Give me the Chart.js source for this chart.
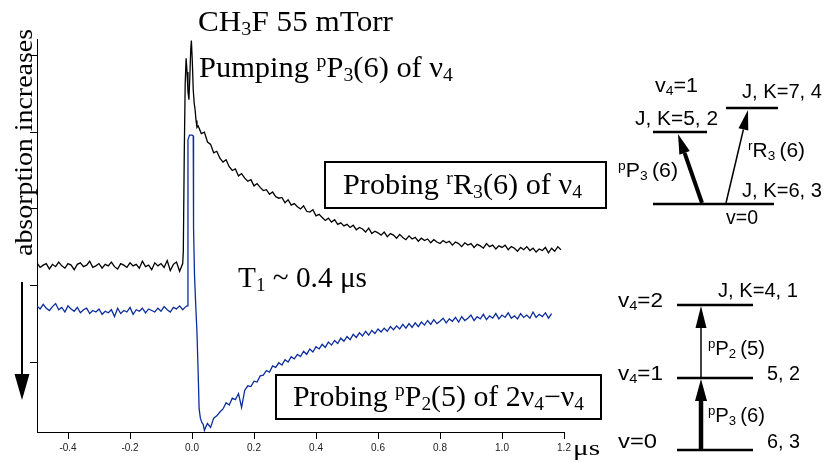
<!DOCTYPE html>
<html>
<head>
<meta charset="utf-8">
<style>
  html, body { margin: 0; padding: 0; background: #fff; }
  #wrap { width: 831px; height: 463px; }
</style>
</head>
<body>
<div id="wrap"><canvas id="decayChart" width="831" height="463"></canvas></div>
<script src="https://cdn.jsdelivr.net/npm/chart.js@4/dist/chart.umd.min.js"></script>
<script>
// axis ticks (µs) and the unlabeled left ticks
const xTickValues = [-0.4, -0.2, 0.0, 0.2, 0.4, 0.6, 0.8, 1.0, 1.2];
const yTickValues = [0, 1, 2, 3, 4];

// probe rR3(6) of v4 (black trace)
const blackTimes = [
  -0.50, -0.49, -0.48, -0.47, -0.46, -0.45, -0.44, -0.43, -0.42, -0.41,
  -0.40, -0.39, -0.38, -0.37, -0.36, -0.35, -0.34, -0.33, -0.32, -0.31,
  -0.30, -0.29, -0.28, -0.27, -0.26, -0.25, -0.24, -0.23, -0.22, -0.21,
  -0.20, -0.19, -0.18, -0.17, -0.16, -0.15, -0.14, -0.13, -0.12, -0.11,
  -0.10, -0.09, -0.08, -0.07, -0.06, -0.05, -0.04, -0.03,
  -0.028, -0.025, -0.022, -0.019, -0.016, -0.013, -0.010, -0.007,
  -0.004, -0.002, 0.001, 0.004, 0.007, 0.010, 0.013, 0.016,
  0.02, 0.03, 0.04, 0.05, 0.06, 0.07, 0.08, 0.09,
  0.10, 0.11, 0.12, 0.13, 0.14, 0.15, 0.16, 0.17, 0.18, 0.19,
  0.20, 0.21, 0.22, 0.23, 0.24, 0.25, 0.26, 0.27, 0.28, 0.29,
  0.30, 0.31, 0.32, 0.33, 0.34, 0.35, 0.36, 0.37, 0.38, 0.39,
  0.40, 0.41, 0.42, 0.43, 0.44, 0.45, 0.46, 0.47, 0.48, 0.49,
  0.50, 0.51, 0.52, 0.53, 0.54, 0.55, 0.56, 0.57, 0.58, 0.59,
  0.60, 0.61, 0.62, 0.63, 0.64, 0.65, 0.66, 0.67, 0.68, 0.69,
  0.70, 0.71, 0.72, 0.73, 0.74, 0.75, 0.76, 0.77, 0.78, 0.79,
  0.80, 0.81, 0.82, 0.83, 0.84, 0.85, 0.86, 0.87, 0.88, 0.89,
  0.90, 0.91, 0.92, 0.93, 0.94, 0.95, 0.96, 0.97, 0.98, 0.99,
  1.00, 1.01, 1.02, 1.03, 1.04, 1.05, 1.06, 1.07, 1.08, 1.09,
  1.10, 1.11, 1.12, 1.13, 1.14, 1.15, 1.16, 1.17, 1.18, 1.19
];
const blackValues = [
  1.30, 1.24, 1.27, 1.29, 1.22, 1.28, 1.25, 1.31, 1.26, 1.23,
  1.29, 1.27, 1.21, 1.28, 1.30, 1.25, 1.27, 1.32, 1.24, 1.26,
  1.29, 1.23, 1.28, 1.26, 1.31, 1.25, 1.22, 1.29, 1.27, 1.24,
  1.30, 1.26, 1.28, 1.23, 1.32, 1.25, 1.27, 1.21, 1.30, 1.26,
  1.29, 1.24, 1.33, 1.20, 1.28, 1.31, 1.19, 1.29,
  1.45, 2.70, 3.62, 3.96, 3.78, 3.52, 3.42, 3.72,
  4.08, 4.19, 3.92, 3.55, 3.38, 3.29, 3.15, 3.06,
  3.08, 2.98, 3.00, 2.87, 2.84, 2.73, 2.75, 2.66,
  2.61, 2.64, 2.55, 2.50, 2.52, 2.43, 2.46, 2.40, 2.36, 2.38,
  2.30, 2.33, 2.28, 2.24, 2.25, 2.19, 2.22, 2.16, 2.14, 2.15,
  2.08, 2.12, 2.05, 2.07, 2.03, 2.00, 2.04, 1.97, 1.96, 1.99,
  1.91, 1.93, 1.89, 1.85, 1.88, 1.83, 1.86, 1.80, 1.82, 1.78,
  1.80, 1.76, 1.79, 1.73, 1.76, 1.74, 1.70, 1.75, 1.68, 1.71,
  1.69, 1.66, 1.70, 1.64, 1.68, 1.66, 1.62, 1.67, 1.63, 1.60,
  1.65, 1.61, 1.63, 1.58, 1.62, 1.59, 1.61, 1.56, 1.60, 1.57,
  1.55, 1.59, 1.56, 1.58, 1.53, 1.57, 1.55, 1.51, 1.56, 1.53,
  1.55, 1.50, 1.54, 1.52, 1.49, 1.55, 1.51, 1.53, 1.48, 1.52,
  1.50, 1.53, 1.47, 1.51, 1.49, 1.45, 1.50, 1.47, 1.51, 1.46,
  1.49, 1.44, 1.48, 1.46, 1.50, 1.43, 1.49, 1.45, 1.51, 1.47
];

// probe pP2(5) of 2v4-v4 (blue trace)
const blueTimes = [
  -0.50, -0.49, -0.48, -0.47, -0.46, -0.45, -0.44, -0.43, -0.42, -0.41,
  -0.40, -0.39, -0.38, -0.37, -0.36, -0.35, -0.34, -0.33, -0.32, -0.31,
  -0.30, -0.29, -0.28, -0.27, -0.26, -0.25, -0.24, -0.23, -0.22, -0.21,
  -0.20, -0.19, -0.18, -0.17, -0.16, -0.15, -0.14, -0.13, -0.12, -0.11,
  -0.10, -0.09, -0.08, -0.07, -0.06, -0.05, -0.04, -0.03, -0.02,
  -0.016, -0.013, -0.008, -0.004, 0.000, 0.004, 0.005, 0.008, 0.012,
  0.016, 0.020, 0.023, 0.027, 0.032, 0.036, 0.040, 0.045,
  0.05, 0.06, 0.07, 0.08, 0.09,
  0.10, 0.11, 0.12, 0.13, 0.14, 0.15, 0.16, 0.17, 0.18, 0.19,
  0.20, 0.21, 0.22, 0.23, 0.24, 0.25, 0.26, 0.27, 0.28, 0.29,
  0.30, 0.31, 0.32, 0.33, 0.34, 0.35, 0.36, 0.37, 0.38, 0.39,
  0.40, 0.41, 0.42, 0.43, 0.44, 0.45, 0.46, 0.47, 0.48, 0.49,
  0.50, 0.51, 0.52, 0.53, 0.54, 0.55, 0.56, 0.57, 0.58, 0.59,
  0.60, 0.61, 0.62, 0.63, 0.64, 0.65, 0.66, 0.67, 0.68, 0.69,
  0.70, 0.71, 0.72, 0.73, 0.74, 0.75, 0.76, 0.77, 0.78, 0.79,
  0.80, 0.81, 0.82, 0.83, 0.84, 0.85, 0.86, 0.87, 0.88, 0.89,
  0.90, 0.91, 0.92, 0.93, 0.94, 0.95, 0.96, 0.97, 0.98, 0.99,
  1.00, 1.01, 1.02, 1.03, 1.04, 1.05, 1.06, 1.07, 1.08, 1.09,
  1.10, 1.11, 1.12, 1.13, 1.14, 1.15, 1.16
];
const blueValues = [
  0.74, 0.70, 0.76, 0.71, 0.68, 0.73, 0.77, 0.69, 0.72, 0.66,
  0.74, 0.70, 0.67, 0.72, 0.65, 0.69, 0.71, 0.64, 0.68, 0.66,
  0.70, 0.63, 0.67, 0.65, 0.69, 0.60, 0.71, 0.64, 0.68, 0.66,
  0.72, 0.63, 0.69, 0.67, 0.71, 0.65, 0.70, 0.68, 0.66, 0.71,
  0.67, 0.73, 0.69, 0.66, 0.72, 0.70, 0.74, 0.69, 0.73,
  0.74, 2.90, 2.96, 2.96, 2.96, 2.95, 1.75, 1.15, 0.75,
  0.40, -0.15, -0.60, -0.72, -0.78, -0.80, -0.88, -0.83,
  -0.79, -0.84, -0.72, -0.69, -0.64,
  -0.60, -0.52, -0.55, -0.46, -0.48, -0.40, -0.58, -0.36, -0.30, -0.31,
  -0.24, -0.25, -0.17, -0.16, -0.10, -0.12, -0.04, -0.06, 0.00, -0.03,
  0.04, 0.01, 0.08, 0.05, 0.11, 0.08, 0.15, 0.11, 0.18, 0.14,
  0.21, 0.18, 0.24, 0.20, 0.27, 0.23, 0.29, 0.25, 0.32, 0.28,
  0.34, 0.30, 0.37, 0.33, 0.39, 0.35, 0.41, 0.36, 0.42, 0.38,
  0.44, 0.40, 0.45, 0.41, 0.47, 0.43, 0.48, 0.44, 0.50, 0.45,
  0.51, 0.46, 0.52, 0.47, 0.53, 0.49, 0.55, 0.50, 0.56, 0.51,
  0.54, 0.58, 0.52, 0.57, 0.54, 0.59, 0.53, 0.60, 0.55, 0.58,
  0.62, 0.55, 0.60, 0.57, 0.63, 0.56, 0.61, 0.58, 0.64, 0.57,
  0.62, 0.59, 0.65, 0.58, 0.61, 0.57, 0.64, 0.59, 0.62, 0.58,
  0.66, 0.59, 0.63, 0.60, 0.65, 0.58, 0.64
];

const SERIF = '"Liberation Serif", "Times New Roman", serif';
const SANS = '"Liberation Sans", Arial, sans-serif';

// text pieces: [text, 'sub' | 'sup' | undefined]
function richWidth(ctx, segs, family, size) {
    let w = 0;
    segs.forEach(([t, kind]) => {
        ctx.font = `${kind ? size * 0.65 : size}px ${family}`;
        w += ctx.measureText(t).width;
    });
    return w;
}

function drawRich(ctx, segs, x, y, family, size, width) {
    const natural = richWidth(ctx, segs, family, size);
    ctx.save();
    ctx.translate(x, y);
    ctx.scale(width / natural, 1);
    ctx.textBaseline = 'alphabetic';
    ctx.textAlign = 'left';
    ctx.fillStyle = '#000';
    let cx = 0;
    segs.forEach(([t, kind]) => {
        const s = kind ? size * 0.65 : size;
        ctx.font = `${s}px ${family}`;
        let dy = 0;
        if (kind === 'sub') dy = size * 0.15;
        if (kind === 'sup') dy = -size * 0.36;
        ctx.fillText(t, cx, dy);
        cx += ctx.measureText(t).width;
    });
    ctx.restore();
}

function drawLine(ctx, x0, y0, x1, y1, lw) {
    ctx.beginPath();
    ctx.lineWidth = lw;
    ctx.moveTo(x0, y0);
    ctx.lineTo(x1, y1);
    ctx.stroke();
}

function drawArrow(ctx, x0, y0, x1, y1, lw, headLen, headW) {
    const a = Math.atan2(y1 - y0, x1 - x0);
    const bx = x1 - headLen * Math.cos(a);
    const by = y1 - headLen * Math.sin(a);
    drawLine(ctx, x0, y0, bx, by, lw);
    ctx.beginPath();
    ctx.moveTo(x1, y1);
    ctx.lineTo(bx + headW / 2 * Math.sin(a), by - headW / 2 * Math.cos(a));
    ctx.lineTo(bx - headW / 2 * Math.sin(a), by + headW / 2 * Math.cos(a));
    ctx.closePath();
    ctx.fill();
}

function drawBox(ctx, x, y, w, h) {
    ctx.fillStyle = '#fff';
    ctx.fillRect(x, y, w, h);
    ctx.lineWidth = 2;
    ctx.strokeRect(x, y, w, h);
}

const annotations = {
    id: 'annotations',
    afterDraw(chart) {
        const ctx = chart.ctx;
        ctx.save();
        ctx.strokeStyle = '#000';
        ctx.fillStyle = '#000';

        // titles and labels on the plot
        drawRich(ctx, [['CH'], ['3', 'sub'], ['F 55 mTorr']], 198, 31, SERIF, 29, 195);
        drawRich(ctx, [['Pumping '], ['p', 'sup'], ['P'], ['3', 'sub'], ['(6) of ν'], ['4', 'sub']], 199, 77, SERIF, 29, 254);
        drawBox(ctx, 325, 162, 281, 46);
        drawRich(ctx, [['Probing '], ['r', 'sup'], ['R'], ['3', 'sub'], ['(6) of ν'], ['4', 'sub']], 343, 194, SERIF, 29, 239);
        drawRich(ctx, [['T'], ['1', 'sub'], [' ~ 0.4 μs']], 238, 287, SERIF, 29, 129);
        drawBox(ctx, 276, 375, 325, 44);
        drawRich(ctx, [['Probing '], ['p', 'sup'], ['P'], ['2', 'sub'], ['(5) of 2ν'], ['4', 'sub'], ['−ν'], ['4', 'sub']], 293, 406, SERIF, 29, 291);
        drawRich(ctx, [['μs']], 573, 455, SERIF, 22, 27);

        // rotated y label and the big down arrow
        ctx.save();
        ctx.translate(32, 256);
        ctx.rotate(-Math.PI / 2);
        drawRich(ctx, [['absorption increases']], 0, 0, SERIF, 25, 227);
        ctx.restore();
        ctx.fillStyle = '#000';
        drawArrow(ctx, 22, 282, 22, 400, 2, 26, 15);

        // level scheme: probe rR3(6)
        const fs = 20;
        drawLine(ctx, 653, 132, 707, 132, 2.5);
        drawLine(ctx, 726, 108, 778, 108, 2.5);
        drawLine(ctx, 653, 204, 774, 204, 2.5);
        drawArrow(ctx, 702, 203, 678, 134, 4, 20, 11);
        drawArrow(ctx, 726, 203, 748, 110, 1.5, 20, 10);
        drawRich(ctx, [['v'], ['4', 'sub'], ['=1']], 655, 92, SANS, fs, 43);
        drawRich(ctx, [['J, K=5, 2']], 635, 125, SANS, fs, 83);
        drawRich(ctx, [['J, K=7, 4']], 742, 98, SANS, fs, 80);
        drawRich(ctx, [['p', 'sup'], ['P'], ['3', 'sub'], ['\u2009(6)']], 618, 177, SANS, fs, 60);
        drawRich(ctx, [['r', 'sup'], ['R'], ['3', 'sub'], ['\u2009(6)']], 748, 157, SANS, fs, 57);
        drawRich(ctx, [['J, K=6, 3']], 742, 197, SANS, fs, 80);
        drawRich(ctx, [['v=0']], 726, 224, SANS, fs, 32);

        // level scheme: probe pP2(5)
        drawLine(ctx, 677, 305, 753, 305, 2.5);
        drawLine(ctx, 677, 378, 753, 378, 2.5);
        drawLine(ctx, 677, 450, 753, 450, 2.5);
        drawArrow(ctx, 701, 378, 701, 306, 1.5, 22, 11);
        drawArrow(ctx, 701, 450, 701, 379, 4.5, 22, 12);
        drawRich(ctx, [['v'], ['4', 'sub'], ['=2']], 618, 307, SANS, fs, 45);
        drawRich(ctx, [['J, K=4, 1']], 718, 297, SANS, fs, 80);
        drawRich(ctx, [['v'], ['4', 'sub'], ['=1']], 618, 380, SANS, fs, 45);
        drawRich(ctx, [['5, 2']], 767, 380, SANS, fs, 33);
        drawRich(ctx, [['v=0']], 618, 448, SANS, fs, 39);
        drawRich(ctx, [['6, 3']], 767, 448, SANS, fs, 33);
        drawRich(ctx, [['p', 'sup'], ['P'], ['2', 'sub'], ['\u2009(5)']], 708, 355, SANS, fs, 57);
        drawRich(ctx, [['p', 'sup'], ['P'], ['3', 'sub'], ['\u2009(6)']], 708, 422, SANS, fs, 57);

        ctx.restore();
    }
};

function toPoints(times, values) {
    const n = Math.min(times.length, values.length);
    const pts = [];
    for (let i = 0; i < n; i++) pts.push({ x: times[i], y: values[i] });
    return pts;
}

let decayChart;

function initChart() {
    const ctx = document.getElementById('decayChart').getContext('2d');
    decayChart = new Chart(ctx, {
        type: 'line',
        data: {
            datasets: [{
                label: 'Probing rR3(6) of v4',
                data: toPoints(blackTimes, blackValues),
                borderColor: '#000000',
                borderWidth: 1.3,
                pointRadius: 0,
                tension: 0,
                fill: false
            }, {
                label: 'Probing pP2(5) of 2v4-v4',
                data: toPoints(blueTimes, blueValues),
                borderColor: '#0c2d9e',
                borderWidth: 1.3,
                pointRadius: 0,
                tension: 0,
                fill: false
            }]
        },
        options: {
            responsive: false,
            animation: false,
            devicePixelRatio: 1,
            layout: { padding: { left: 30, top: 39, right: 267, bottom: 0 } },
            scales: {
                x: {
                    type: 'linear',
                    min: -0.5,
                    max: 1.2,
                    afterBuildTicks: s => { s.ticks = xTickValues.map(v => ({ value: v })); },
                    afterFit: s => { s.height = 31; },
                    border: { display: true, color: '#000', width: 1 },
                    grid: { drawOnChartArea: false, drawTicks: true, tickLength: 7, color: '#000' },
                    ticks: {
                        color: '#222',
                        font: { family: 'Liberation Sans', size: 10 },
                        padding: 3,
                        maxRotation: 0,
                        autoSkip: false,
                        callback: v => v.toFixed(1)
                    }
                },
                y: {
                    type: 'linear',
                    min: -0.9,
                    max: 4.21,
                    afterBuildTicks: s => { s.ticks = yTickValues.map(v => ({ value: v })); },
                    afterFit: s => { s.width = 7; },
                    border: { display: true, color: '#000', width: 1 },
                    grid: { drawOnChartArea: false, drawTicks: true, tickLength: 7, color: '#000' },
                    ticks: { display: false }
                }
            },
            plugins: {
                legend: { display: false },
                tooltip: { enabled: false }
            }
        },
        plugins: [annotations]
    });
}

initChart();
</script>
</body>
</html>
